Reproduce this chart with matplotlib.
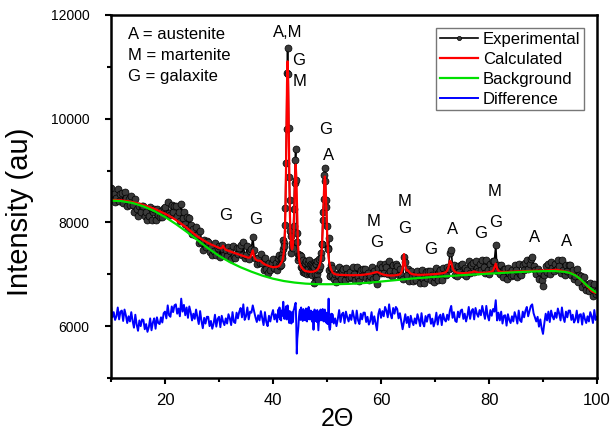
import numpy as np
import matplotlib.pyplot as plt

plt.rcParams['font.family'] = ['Liberation Sans', 'DejaVu Sans']

# 2-theta steps: 0.25 deg away from the strong reflections, 0.1 deg across them
tt_lo = np.arange(40, 164) / 4.0      # 10.00 ... 40.75
tt_mid = np.arange(410, 510) / 10.0   # 41.0 ... 50.9
tt_hi = np.arange(204, 401) / 4.0     # 51.00 ... 100.00

# Rietveld calculated profile (one row per degree)
calc_lo = [
    8430, 8431, 8431, 8431,
    8430, 8429, 8428, 8427,
    8425, 8422, 8418, 8414,
    8410, 8406, 8401, 8396,
    8392, 8386, 8380, 8374,
    8367, 8360, 8352, 8345,
    8337, 8328, 8319, 8310,
    8301, 8292, 8283, 8273,
    8263, 8252, 8241, 8229,
    8217, 8205, 8193, 8181,
    8168, 8155, 8141, 8127,
    8112, 8097, 8081, 8065,
    8048, 8030, 8012, 7993,
    7975, 7956, 7937, 7918,
    7899, 7877, 7855, 7832,
    7810, 7789, 7769, 7749,
    7730, 7712, 7695, 7678,
    7662, 7646, 7631, 7616,
    7602, 7589, 7576, 7564,
    7553, 7542, 7531, 7520,
    7510, 7500, 7510, 7550,
    7500, 7472, 7462, 7452,
    7442, 7433, 7424, 7415,
    7406, 7397, 7388, 7379,
    7370, 7361, 7352, 7343,
    7334, 7326, 7320, 7325,
    7380, 7460, 7340, 7290,
    7270, 7262, 7262, 7255,
    7225, 7205, 7190, 7178,
    7168, 7158, 7150, 7143,
    7138, 7137, 7140, 7145,
]
calc_mid = [
    7153, 7159, 7170, 7182, 7199, 7215, 7236, 7258, 7292, 7341,
    7422, 7564, 7804, 8241, 8917, 9830, 10704, 11105, 10717, 9854,
    8957, 8293, 7870, 7652, 7519, 7478, 7499, 7583, 7776, 8088,
    8521, 8935, 9115, 8909, 8468, 8009, 7667, 7444, 7318, 7241,
    7194, 7167, 7145, 7130, 7116, 7103, 7093, 7083, 7075, 7068,
    7062, 7060, 7058, 7056, 7054, 7052, 7050, 7049, 7048, 7047,
    7046, 7047, 7048, 7049, 7050, 7052, 7055, 7058, 7062, 7066,
    7075, 7081, 7090, 7100, 7118, 7140, 7165, 7202, 7248, 7323,
    7434, 7620, 7862, 8178, 8513, 8773, 8885, 8773, 8513, 8178,
    7857, 7612, 7425, 7315, 7240, 7193, 7153, 7105, 7085, 7065,
]
calc_hi = [
    7040, 7015, 7002, 6994,
    6990, 6988, 6987, 6986,
    6985, 6984, 6984, 6983,
    6983, 6982, 6982, 6982,
    6982, 6982, 6983, 6984,
    6985, 6987, 6989, 6991,
    6994, 6998, 7002, 7006,
    7010, 7016, 7024, 7032,
    7040, 7042, 7035, 7024,
    7010, 7000, 6992, 6986,
    6982, 6979, 6977, 6976,
    6976, 6977, 6979, 6982,
    6986, 6992, 7002, 7030,
    7110, 7390, 7160, 7070,
    7075, 7040, 7015, 7005,
    6998, 6994, 6992, 6990,
    6990, 6990, 6990, 6991,
    6992, 6993, 6994, 6995,
    6996, 6998, 7000, 7002,
    7004, 7006, 7008, 7011,
    7014, 7018, 7023, 7030,
    7042, 7070, 7130, 7260,
    7230, 7120, 7065, 7042,
    7032, 7027, 7024, 7022,
    7021, 7021, 7022, 7024,
    7026, 7029, 7033, 7038,
    7045, 7058, 7048, 7038,
    7033, 7030, 7029, 7029,
    7030, 7031, 7033, 7036,
    7039, 7044, 7052, 7070,
    7130, 7205, 7110, 7065,
    7052, 7047, 7045, 7044,
    7044, 7045, 7046, 7047,
    7048, 7049, 7050, 7051,
    7052, 7053, 7054, 7055,
    7056, 7057, 7058, 7059,
    7060, 7061, 7062, 7063,
    7064, 7066, 7067, 7068,
    7069, 7070, 7071, 7072,
    7073, 7074, 7075, 7076,
    7077, 7078, 7079, 7080,
    7082, 7085, 7088, 7084,
    7078, 7072, 7066, 7060,
    7055, 7050, 7044, 7037,
    7030, 7020, 7008, 6994,
    6978, 6960, 6940, 6918,
    6895, 6870, 6845, 6818,
    6790, 6762, 6734, 6706,
    6680, 6662, 6650, 6642,
    6640,
]

# observed - calculated, shifted down to sit under the pattern
diff_lo = [
    6390, 6170, 6270, 6120,
    6190, 6360, 6130, 6280,
    6300, 6100, 6320, 6210,
    6060, 6190, 6090, 6270,
    6100, 5970, 6220, 6030,
    5910, 6110, 6000, 6130,
    6120, 5940, 6040, 5890,
    5980, 6150, 5920, 6070,
    6150, 5950, 6170, 6060,
    6040, 6170, 6070, 6250,
    6280, 6150, 6400, 6210,
    6180, 6380, 6270, 6400,
    6420, 6240, 6340, 6190,
    6530, 6280, 6410, 6210,
    6360, 6160, 6380, 6270,
    6110, 6240, 6140, 6320,
    6170, 6040, 6290, 6100,
    5960, 6160, 6050, 6180,
    6180, 6000, 6100, 5950,
    6050, 6220, 5990, 6140,
    6180, 5980, 6200, 6090,
    6020, 6150, 6050, 6230,
    6150, 6020, 6270, 6080,
    6060, 6260, 6150, 6280,
    6350, 6170, 6420, 6120,
    6190, 6360, 6130, 6280,
    6260, 6400, 6280, 6170,
    6080, 6210, 6110, 6290,
    6150, 6020, 6270, 6080,
    6000, 6200, 6090, 6220,
    6310, 6130, 6230, 6080,
]
diff_mid = [
    6320, 6170, 6360, 6130, 6260, 6110, 6300, 6200, 6340, 6470,
    6330, 6140, 6290, 6180, 6380, 6130, 6330, 6400, 6300, 6120,
    6060, 6290, 6120, 6240, 6050, 6270, 6170, 6080, 6300, 6330,
    6380, 6420, 6450, 6060, 5470, 5760, 5870, 5990, 6170, 6280,
    6320, 6120, 6360, 6150, 6280, 6100, 6330, 6200, 6130, 6300,
    6110, 6340, 6170, 6090, 6320, 6200, 6370, 6130, 6290, 6150,
    6300, 6120, 6280, 6080, 6260, 5930, 6240, 6320, 6100, 6290,
    6270, 6080, 6310, 6130, 5920, 6110, 6280, 6110, 6320, 6140,
    6300, 6110, 6330, 6180, 6090, 6300, 6320, 6170, 6070, 6260,
    6230, 6040, 6210, 6530, 5990, 5930, 5970, 6160, 6240, 6080,
]
diff_hi = [
    6230, 6050, 6150, 6000,
    6140, 6310, 6080, 6230,
    6260, 6060, 6280, 6170,
    6090, 6220, 6120, 6300,
    6180, 6050, 6300, 6110,
    6040, 6240, 6130, 6260,
    6260, 6080, 6180, 6030,
    6100, 6270, 6040, 6190,
    6060, 5920, 6230, 6330,
    6160, 6290, 6190, 6370,
    6300, 6170, 6420, 6230,
    6150, 6350, 6240, 6370,
    6330, 6150, 6250, 6100,
    5940, 6090, 6230, 6060,
    6180, 5980, 6200, 6090,
    6020, 6150, 6050, 6230,
    6130, 6000, 6250, 6060,
    5995, 6195, 6085, 6215,
    6225, 6045, 6145, 5995,
    6090, 6260, 6030, 6180,
    6220, 6020, 6240, 6130,
    6090, 6220, 6120, 6300,
    6390, 6160, 6270, 6100,
    6080, 6280, 6170, 6300,
    6320, 6140, 6240, 6090,
    6200, 6370, 6140, 6290,
    6330, 6130, 6350, 6240,
    6180, 6310, 6210, 6390,
    6270, 6140, 6390, 6200,
    6110, 6310, 6200, 6330,
    6280, 6500, 6110, 6260,
    6110, 6280, 6050, 6200,
    6210, 6010, 6230, 6120,
    6060, 6190, 6090, 6270,
    6180, 6050, 6300, 6110,
    6080, 6280, 6170, 6300,
    6370, 6190, 6290, 6390,
    6420, 6250, 6170, 6090,
    6180, 5990, 6130, 5960,
    5850, 6060, 6240, 6110,
    6280, 6080, 6300, 6190,
    6130, 6260, 6160, 6340,
    6240, 6110, 6360, 6170,
    6080, 6280, 6170, 6300,
    6300, 6120, 6220, 6070,
    6130, 6300, 6070, 6220,
    6230, 6030, 6250, 6140,
    6060, 6190, 6090, 6270,
    6190, 6060, 6310, 6120,
    6180,
]
diff_offset = 6150

# refined background
bg_tt = [10, 12, 14, 16, 18, 20, 22, 24, 26, 28, 30, 32, 34, 36, 38, 40,
         42, 44, 46, 48, 50, 52, 54, 56, 58, 60, 62, 64, 66, 68, 70, 72,
         74, 76, 78, 80, 82, 84, 86, 88, 90, 92, 94, 95, 96, 97, 98, 99, 100]
bg_int = [8420, 8410, 8375, 8310, 8220, 8105, 7970, 7820, 7660, 7500, 7355,
          7235, 7135, 7050, 6975, 6915, 6870, 6840, 6820, 6810, 6808, 6810,
          6815, 6825, 6840, 6860, 6880, 6900, 6920, 6935, 6950, 6962, 6975,
          6988, 7000, 7012, 7024, 7035, 7045, 7053, 7060, 7062, 7048, 7025,
          6978, 6900, 6798, 6710, 6640]

# phase marks over the reflections
peak_tags = ['A,M', 'G', 'M', 'G', 'A', 'G', 'G', 'M', 'G', 'M', 'G', 'G',
             'A', 'G', 'M', 'G', 'A', 'A']
tag_tt = [42.7, 44.7, 45.0, 49.8, 50.2, 31.3, 36.7, 58.7, 59.1, 64.3, 64.4,
          69.1, 73.2, 78.5, 81.1, 81.2, 88.4, 94.3]
tag_int = [11662, 11131, 10713, 9800, 9298, 8130, 8063, 8024, 7619, 8410,
           7889, 7474, 7870, 7783, 8594, 7995, 7715, 7638]

two_theta = np.concatenate([tt_lo, tt_mid, tt_hi])
calc = np.array(calc_lo + calc_mid + calc_hi, dtype=float)
diff = np.array(diff_lo + diff_mid + diff_hi, dtype=float)
assert len(calc) == len(two_theta) == len(diff), (len(calc), len(two_theta), len(diff))
exper = calc + diff - diff_offset

fig = plt.figure(figsize=(6.12, 4.42), dpi=100)
ax = fig.add_axes([0.1814, 0.1448, 0.7941, 0.8213])

ax.plot(two_theta, exper, '-', color='k', lw=1.2, marker='o', ms=5,
        mfc='#3a3a3a', mec='k', mew=0.5, label='Experimental')
ax.plot(two_theta, calc, color='red', lw=1.6, label='Calculated')
ax.plot(bg_tt, bg_int, color='#00e000', lw=1.6, label='Background')
ax.plot(two_theta, diff, color='blue', lw=1.4, label='Difference')

for tag, t, v in zip(peak_tags, tag_tt, tag_int):
    ax.text(t, v, tag, ha='center', va='center', fontsize=12)

ax.text(0.035, 0.933, 'A = austenite', transform=ax.transAxes, fontsize=12)
ax.text(0.035, 0.876, 'M = martenite', transform=ax.transAxes, fontsize=12)
ax.text(0.035, 0.818, 'G = galaxite', transform=ax.transAxes, fontsize=12)

ax.set_xlim(10, 100)
ax.set_ylim(5000, 12000)
ax.set_xticks([20, 40, 60, 80, 100])
ax.set_xticks([10, 30, 50, 70, 90], minor=True)
ax.set_yticks([6000, 8000, 10000, 12000])
ax.set_yticks([5000, 7000, 9000, 11000], minor=True)
ax.tick_params(which='major', direction='out', length=4.5, width=1.5)
ax.tick_params(which='minor', direction='out', length=3, width=1.5)
ax.tick_params(axis='x', labelsize=12, pad=6.5)
ax.tick_params(axis='y', labelsize=10, pad=11)
for sp in ax.spines.values():
    sp.set_linewidth(1.8)

ax.set_xlabel('2\u0398', fontsize=18)
ax.set_ylabel('Intensity (au)', fontsize=21)
ax.xaxis.set_label_coords(0.465, -0.08)
ax.yaxis.set_label_coords(-0.158, 0.457)

leg = ax.legend(loc='upper right', fontsize=12, handlelength=2.3,
                handletextpad=0.3, labelspacing=0.3, borderpad=0.2,
                borderaxespad=0.8, fancybox=False, markerscale=0.6)
leg.get_frame().set_edgecolor('#555555')
leg.get_frame().set_linewidth(1.0)

fig.savefig('out.png', dpi=100)
